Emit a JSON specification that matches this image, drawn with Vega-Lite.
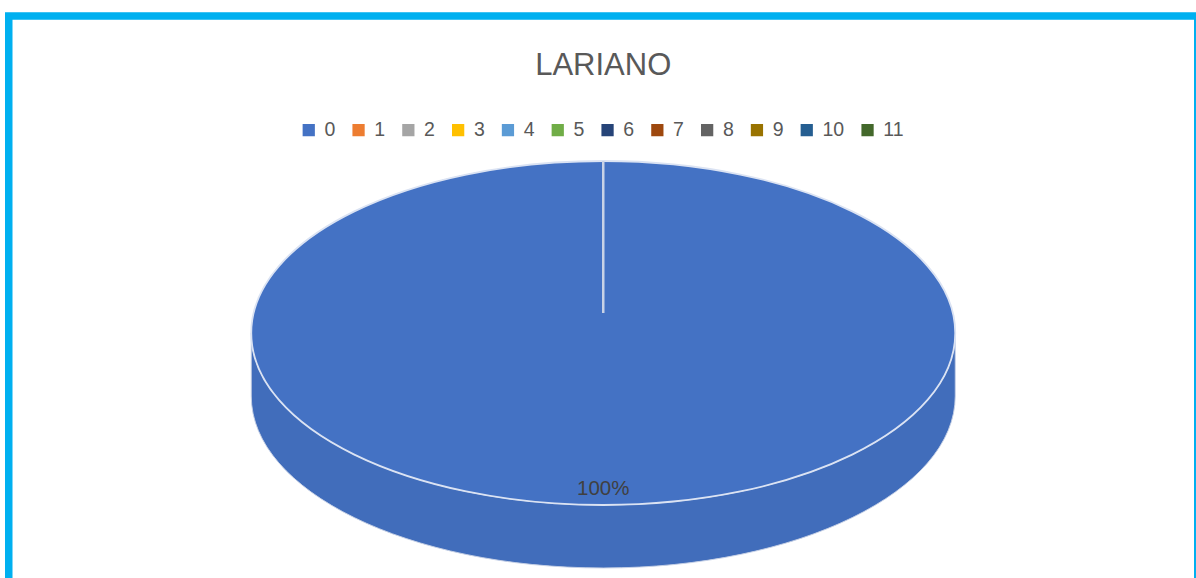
{
  "$schema": "https://vega.github.io/schema/vega-lite/v6.json",
  "autosize": {"type": "none"},
  "width": 1189,
  "height": 580,
  "padding": {"left": 8.75, "top": 16, "right": -1.75, "bottom": -18},
  "background": "white",
  "view": {"stroke": "#00B0F0", "strokeWidth": 7.5, "fill": "white"},
  "config": {"view": {"stroke": "#00B0F0", "strokeWidth": 7.5}},
  "title": {
    "text": "LARIANO",
    "font": "Liberation Sans",
    "fontSize": 31,
    "fontWeight": "normal",
    "color": "#595959",
    "anchor": "middle",
    "frame": "group",
    "orient": "top",
    "baseline": "alphabetic",
    "offset": -90
  },
  "data": {
    "values": [
      {"category": "0", "value": 1},
      {"category": "1", "value": 0},
      {"category": "2", "value": 0},
      {"category": "3", "value": 0},
      {"category": "4", "value": 0},
      {"category": "5", "value": 0},
      {"category": "6", "value": 0},
      {"category": "7", "value": 0},
      {"category": "8", "value": 0},
      {"category": "9", "value": 0},
      {"category": "10", "value": 0},
      {"category": "11", "value": 0}
    ]
  },
  "transform": [{"filter": "datum.value > 0"}],
  "encoding": {
    "color": {
      "field": "category",
      "type": "nominal",
      "scale": {
        "domain": ["0", "1", "2", "3", "4", "5", "6", "7", "8", "9", "10", "11"],
        "range": ["#4472C4", "#ED7D31", "#A5A5A5", "#FFC000", "#5B9BD5", "#70AD47", "#264478", "#9E480E", "#636363", "#997300", "#255E91", "#43682B"]
      },
      "legend": {
        "title": null,
        "orient": "none",
        "direction": "horizontal",
        "legendX": 290.25,
        "legendY": 104,
        "padding": 0,
        "symbolType": "square",
        "symbolSize": 150,
        "symbolStrokeWidth": 0,
        "symbolOpacity": 1,
        "labelFont": "Liberation Sans",
        "labelFontSize": 19.5,
        "labelColor": "#595959",
        "labelOffset": 6,
        "columnPadding": 12.8
      }
    }
  },
  "layer": [
    {
      "mark": {
        "type": "point",
        "filled": true,
        "opacity": 1,
        "size": 495616,
        "stroke": "#c9d4ea",
        "strokeWidth": 1,
        "shape": "M -1 0.0767 L -1 0.2557 C -1 0.5256 -0.5523 0.7443 0 0.7443 C 0.5523 0.7443 1 0.5256 1 0.2557 L 1 0.0767 C 1 0.3466 0.5523 0.5653 0 0.5653 C -0.5523 0.5653 -1 0.3466 -1 0.0767 Z"
      }
    },
    {
      "mark": {
        "type": "point",
        "filled": true,
        "opacity": 0.045,
        "size": 495616,
        "shape": "M -1 0.0767 L -1 0.2557 C -1 0.5256 -0.5523 0.7443 0 0.7443 C 0.5523 0.7443 1 0.5256 1 0.2557 L 1 0.0767 C 1 0.3466 0.5523 0.5653 0 0.5653 C -0.5523 0.5653 -1 0.3466 -1 0.0767 Z"
      },
      "encoding": {"color": {"value": "#000000"}}
    },
    {
      "mark": {
        "type": "point",
        "filled": true,
        "opacity": 1,
        "size": 495616,
        "stroke": "#dbe3f3",
        "strokeWidth": 1.8,
        "shape": "M -1 0.0767 C -1 -0.1932 -0.5523 -0.4119 0 -0.4119 C 0.5523 -0.4119 1 -0.1932 1 0.0767 C 1 0.3466 0.5523 0.5653 0 0.5653 C -0.5523 0.5653 -1 0.3466 -1 0.0767 Z"
      }
    },
    {
      "mark": {
        "type": "point",
        "filled": false,
        "opacity": 1,
        "size": 495616,
        "strokeWidth": 2.5,
        "shape": "M 0 -0.4119 L 0 0.0199"
      },
      "encoding": {"color": {"value": "#c8d2e6"}}
    },
    {
      "mark": {
        "type": "text",
        "font": "Liberation Sans",
        "fontSize": 20.5,
        "baseline": "alphabetic",
        "align": "center",
        "dy": 189
      },
      "encoding": {
        "text": {"field": "value", "type": "quantitative", "format": ".0%"},
        "color": {"value": "#404040"}
      }
    }
  ]
}
